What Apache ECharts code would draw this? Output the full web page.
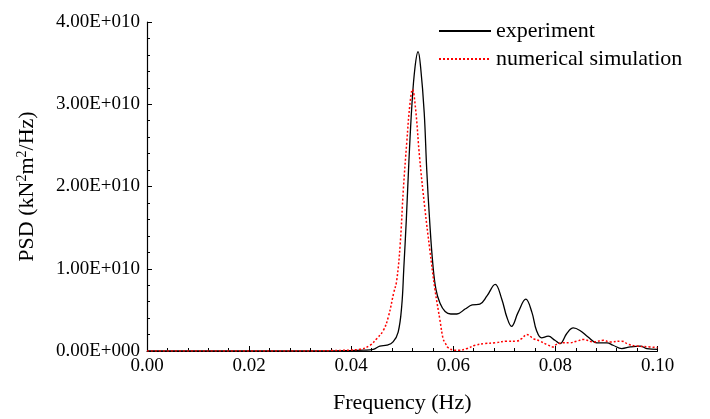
<!DOCTYPE html>
<html>
<head>
<meta charset="utf-8">
<script src="https://cdn.jsdelivr.net/npm/echarts@6/dist/echarts.min.js"></script>
<style>
html,body{margin:0;padding:0;background:#fff;}
#chart{width:710px;height:419px;}
</style>
</head>
<body>
<div id="chart"></div>
<script>
// Frequency (Hz) and PSD (in units of 1E+010 kN^2 m^2/Hz)
var expFreq = [0, 0.030, 0.0398, 0.0424, 0.0443, 0.0456, 0.0470, 0.0482, 0.0492, 0.0499, 0.0503, 0.0508, 0.0513, 0.0519, 0.0525, 0.0531, 0.0536, 0.0543, 0.0548, 0.0554, 0.0560, 0.0566, 0.0574, 0.0584, 0.0595, 0.0607, 0.0623, 0.0637, 0.0652, 0.0666, 0.0682, 0.0695, 0.0705, 0.0714, 0.0727, 0.0742, 0.0754, 0.0763, 0.0773, 0.0786, 0.0799, 0.0809, 0.0822, 0.0835, 0.0848, 0.0864, 0.0881, 0.0901, 0.0913, 0.0930, 0.0947, 0.0966, 0.0979, 0.1000];
var expPSD  = [0, 0, 0.005, 0.01, 0.02, 0.06, 0.07, 0.11, 0.23, 0.55, 1.0, 1.6, 2.3, 3.0, 3.45, 3.64, 3.45, 2.9, 2.2, 1.55, 1.05, 0.75, 0.58, 0.48, 0.45, 0.45, 0.51, 0.56, 0.57, 0.67, 0.81, 0.63, 0.41, 0.30, 0.47, 0.63, 0.47, 0.25, 0.16, 0.18, 0.13, 0.09, 0.21, 0.28, 0.25, 0.17, 0.10, 0.10, 0.07, 0.03, 0.05, 0.06, 0.03, 0.02];
var simFreq = [0, 0.030, 0.036, 0.0417, 0.0437, 0.0450, 0.0463, 0.0473, 0.0483, 0.0489, 0.0496, 0.0502, 0.0509, 0.0515, 0.0520, 0.0526, 0.0534, 0.0544, 0.0554, 0.0564, 0.0574, 0.0580, 0.0584, 0.0590, 0.0603, 0.0611, 0.0627, 0.0643, 0.0662, 0.0682, 0.0705, 0.0724, 0.0734, 0.0744, 0.0757, 0.0770, 0.0783, 0.0796, 0.0802, 0.0815, 0.0828, 0.0842, 0.0855, 0.0874, 0.0894, 0.0907, 0.0930, 0.0943, 0.0959, 0.0985, 0.1000];
var simPSD  = [0, 0, 0.005, 0.02, 0.07, 0.15, 0.25, 0.42, 0.70, 0.85, 1.3, 1.95, 2.55, 3.0, 3.18, 2.95, 2.35, 1.75, 1.23, 0.75, 0.37, 0.15, 0.10, 0.04, 0.01, 0.01, 0.03, 0.07, 0.09, 0.10, 0.12, 0.12, 0.15, 0.20, 0.15, 0.12, 0.08, 0.05, 0.08, 0.10, 0.10, 0.12, 0.14, 0.11, 0.13, 0.11, 0.12, 0.08, 0.06, 0.05, 0.04];
var seriesNames = ['experiment', 'numerical simulation'];
var xTicks = [0, 0.02, 0.04, 0.06, 0.08, 0.10];
var yTicks = [0, 1e10, 2e10, 3e10, 4e10];

function pairs(fx, py) {
  var out = [];
  for (var i = 0; i < fx.length; i++) out.push([fx[i], py[i] * 1e10]);
  return out;
}
function fmtE(v) {
  if (v === 0) return '0.00E+000';
  var e = Math.floor(Math.log10(v) + 1e-9);
  var m = v / Math.pow(10, e);
  return m.toFixed(2) + 'E+' + String(e).padStart(3, '0');
}
var FONT = '"Liberation Serif", "Times New Roman", serif';
var chart = echarts.init(document.getElementById('chart'), null, {renderer: 'canvas'});
chart.setOption({
  backgroundColor: '#fff',
  animation: false,
  grid: {left: 147, right: 52.5, top: 22, bottom: 63, containLabel: false},
  legend: {
    orient: 'vertical',
    left: 433,
    top: 15,
    itemWidth: 52,
    itemHeight: 14,
    itemGap: 6,
    itemStyle: {opacity: 0},
    textStyle: {fontFamily: FONT, fontSize: 22, color: '#000', lineHeight: 22},
    data: seriesNames
  },
  xAxis: {
    type: 'value',
    min: xTicks[0],
    max: xTicks[xTicks.length - 1],
    interval: 0.02,
    name: 'Frequency (Hz)',
    nameLocation: 'middle',
    nameGap: 41,
    nameTextStyle: {fontFamily: FONT, fontSize: 22, color: '#000'},
    axisLine: {show: true, onZero: false, lineStyle: {color: '#000', width: 1.2}},
    axisTick: {show: true, inside: true, length: 5, lineStyle: {color: '#000', width: 1}},
    minorTick: {show: true, splitNumber: 5, length: 3, lineStyle: {color: '#000', width: 1}},
    splitLine: {show: false},
    axisLabel: {fontFamily: FONT, fontSize: 19, color: '#000', margin: 6,
      formatter: function (v) { return v.toFixed(2); }}
  },
  yAxis: {
    type: 'value',
    min: yTicks[0],
    max: yTicks[yTicks.length - 1],
    interval: 1e10,
    name: 'PSD (kN{s|2}m{s|2}/Hz)',
    nameLocation: 'middle',
    nameGap: 108,
    nameRotate: 90,
    nameTextStyle: {fontFamily: FONT, fontSize: 22, color: '#000', lineHeight: 24,
      rich: {s: {fontFamily: FONT, fontSize: 14, color: '#000', verticalAlign: 'top', lineHeight: 24}}},
    axisLine: {show: true, onZero: false, lineStyle: {color: '#000', width: 1.2}},
    axisTick: {show: true, inside: true, length: 5, lineStyle: {color: '#000', width: 1}},
    minorTick: {show: true, splitNumber: 5, length: 3, lineStyle: {color: '#000', width: 1}},
    splitLine: {show: false},
    axisLabel: {fontFamily: FONT, fontSize: 19, color: '#000', margin: 7, formatter: fmtE}
  },
  series: [
    {
      name: seriesNames[0], type: 'line', data: pairs(expFreq, expPSD),
      smooth: 0.4, symbol: 'none', z: 3,
      lineStyle: {color: '#000', width: 1.3, type: 'solid'},
      itemStyle: {color: '#000'}
    },
    {
      name: seriesNames[1], type: 'line', data: pairs(simFreq, simPSD),
      smooth: 0.4, symbol: 'none', z: 4,
      lineStyle: {color: '#ff0000', width: 1.5, type: [2, 2]},
      itemStyle: {color: '#ff0000'}
    }
  ]
});
</script>
</body>
</html>
